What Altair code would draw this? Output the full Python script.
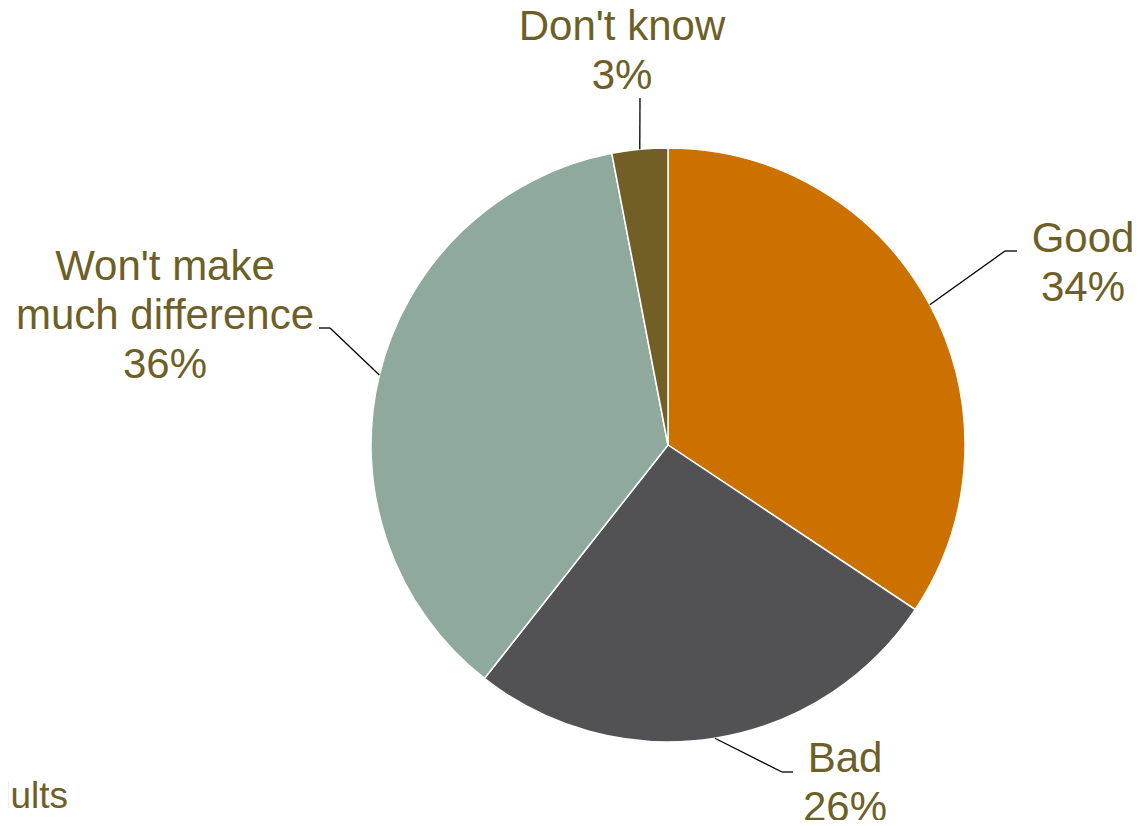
import altair as alt
import pandas as pd

# ---- data ----
categories = ["Good", "Bad", "Won't make much difference", "Don't know"]
label_names = ["Good", "Bad", "Won't make\nmuch difference", "Don't know"]
values = [34, 26, 36, 3]
colors = ["#CC7000", "#525254", "#8FA99D", "#715F25"]
footer_text = "Adults"

# ---- layout (chart pixels) ----
W, H = 1125, 812
CX, CY, R = 660, 437, 297
label_x = [1075, 837, 157, 614]
label_y = [244, 764, 272, 32]
elbow_x = [997, 774, 322, 632]
elbow_y = [243, 764, 320, 90]
end_x = [1009, 785, 311, 632]
end_y = [243, 764, 320, 90]

LABEL_COLOR = "#6E5F26"
FONT = "Liberation Sans"

df = pd.DataFrame({
    "cat": categories,
    "label": label_names,
    "value": values,
    "order": list(range(len(categories))),
    "label_x": label_x,
    "label_y": label_y,
    "elbow_x": elbow_x,
    "elbow_y": elbow_y,
    "end_x": end_x,
    "end_y": end_y,
})

xs = alt.Scale(domain=[0, W], nice=False, zero=False)
ys = alt.Scale(domain=[0, H], nice=False, zero=False, reverse=True)

base = alt.Chart(df)

pie = base.mark_arc(radius=R, stroke="white", strokeWidth=1.5).encode(
    theta=alt.Theta("value:Q", stack=True),
    color=alt.Color("cat:N", scale=alt.Scale(domain=categories, range=colors), legend=None),
    order=alt.Order("order:Q"),
    x=alt.value(CX),
    y=alt.value(CY),
)

geo = base.transform_window(
    cum="sum(value)", sort=[alt.SortField("order")], frame=[None, 0]
).transform_joinaggregate(
    total="sum(value)"
).transform_calculate(
    mid="2*PI*(datum.cum - datum.value/2)/datum.total"
).transform_calculate(
    sx=f"{CX} + {R}*sin(datum.mid)",
    sy=f"{CY} - {R}*cos(datum.mid)",
)

diag = geo.mark_rule(color="black", strokeWidth=1.3).encode(
    x=alt.X("sx:Q", scale=xs, axis=None),
    y=alt.Y("sy:Q", scale=ys, axis=None),
    x2="elbow_x:Q",
    y2="elbow_y:Q",
)

horiz = base.mark_rule(color="black", strokeWidth=1.3).encode(
    x=alt.X("elbow_x:Q", scale=xs, axis=None),
    y=alt.Y("elbow_y:Q", scale=ys, axis=None),
    x2="end_x:Q",
    y2="end_y:Q",
)

labels = base.transform_calculate(
    text="datum.label + '\\n' + datum.value + '%'"
).mark_text(
    font=FONT, fontSize=42, color=LABEL_COLOR, align="center",
    baseline="alphabetic", lineBreak="\n", lineHeight=49,
).encode(
    x=alt.X("label_x:Q", scale=xs, axis=None),
    y=alt.Y("label_y:Q", scale=ys, axis=None),
    text="text:N",
)

footer = alt.Chart(pd.DataFrame({"t": [footer_text]})).mark_text(
    font=FONT, fontSize=37, color=LABEL_COLOR, align="right", baseline="alphabetic"
).encode(
    x=alt.value(60),
    y=alt.value(800),
    text="t:N",
)

chart = alt.layer(pie, diag, horiz, labels, footer).properties(
    width=W, height=H,
    autosize=alt.AutoSizeParams(type="none"),
    padding=0,
).configure_view(stroke=None)

chart.save("out.html", embed_options={"renderer": "svg", "actions": False})
